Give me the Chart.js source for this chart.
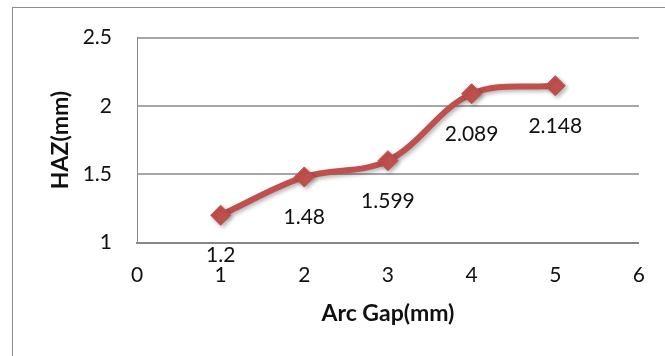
<!DOCTYPE html>
<html>
<head>
<meta charset="utf-8">
<script src="https://cdn.jsdelivr.net/npm/chart.js@4"></script>
<style>
  html, body { margin: 0; padding: 0; background: #fff; }
  #wrap { width: 665px; height: 356px; }
</style>
</head>
<body>
<div id="wrap"><canvas id="chart" width="665" height="356"></canvas></div>
<script>
// chart data
const arcGap = [1, 2, 3, 4, 5];
const haz = [1.2, 1.48, 1.599, 2.089, 2.148];
const yTicks = [1, 1.5, 2, 2.5];

const FONT = 'Lato, "Open Sans", sans-serif';
const RED = '#C0504D';

// outer frame, line shadow and value labels under each point
const decorations = {
  id: 'decorations',
  beforeDraw(chart) {
    const ctx = chart.ctx;
    ctx.save();
    ctx.strokeStyle = '#8c8c8c';
    ctx.lineWidth = 1;
    ctx.strokeRect(12.5, 7.5, 720, 420);
    ctx.restore();
  },
  beforeDatasetsDraw(chart) {
    const ctx = chart.ctx;
    ctx.save();
    ctx.shadowColor = 'rgba(0, 0, 0, 0.3)';
    ctx.shadowBlur = 4;
    ctx.shadowOffsetX = 2;
    ctx.shadowOffsetY = 2;
  },
  afterDatasetsDraw(chart) {
    const ctx = chart.ctx;
    ctx.restore();
    const meta = chart.getDatasetMeta(0);
    ctx.save();
    ctx.font = '21px ' + FONT;
    ctx.fillStyle = '#111';
    ctx.textAlign = 'center';
    ctx.textBaseline = 'alphabetic';
    meta.data.forEach((pt, i) => {
      ctx.fillText(String(haz[i]), pt.x, pt.y + 47);
    });
    ctx.restore();
  }
};

new Chart(document.getElementById('chart'), {
  type: 'line',
  data: {
    datasets: [{
      label: 'HAZ',
      data: arcGap.map((x, i) => ({ x: x, y: haz[i] })),
      borderColor: RED,
      backgroundColor: RED,
      borderWidth: 6,
      tension: 0.35,
      pointStyle: 'rectRot',
      pointRadius: 10,
      pointBorderWidth: 1,
      pointBackgroundColor: RED,
      pointBorderColor: RED
    }]
  },
  options: {
    responsive: false,
    animation: false,
    layout: { padding: { left: 0, right: 21, top: 34, bottom: 0 } },
    plugins: {
      legend: { display: false },
      tooltip: { enabled: false }
    },
    scales: {
      x: {
        type: 'linear',
        min: 0,
        max: 6,
        afterFit(scale) { scale.height = 113.5; },
        ticks: {
          stepSize: 1,
          padding: 20,
          color: '#111',
          font: { family: FONT, size: 21 }
        },
        grid: { display: false, drawTicks: false },
        border: { display: true, color: '#868686', width: 2 },
        title: {
          display: true,
          text: 'Arc Gap(mm)',
          color: '#111',
          font: { family: FONT, size: 23, weight: 'bold' },
          padding: { top: 0, bottom: 29 }
        }
      },
      y: {
        min: 1,
        max: 2.5,
        afterFit(scale) { scale.width = 137; },
        afterBuildTicks(scale) {
          scale.ticks = yTicks.map(v => ({ value: v }));
        },
        ticks: {
          padding: 25,
          color: '#111',
          font: { family: FONT, size: 21 },
          callback: (value) => String(value)
        },
        grid: { color: '#a6a6a6', lineWidth: 2, drawTicks: false },
        border: { display: true, color: '#8c8c8c', width: 1 },
        title: {
          display: true,
          text: 'HAZ(mm)',
          color: '#111',
          font: { family: FONT, size: 23, weight: 'bold' },
          padding: { top: 47, bottom: 0 }
        }
      }
    }
  },
  plugins: [decorations]
});
</script>
</body>
</html>
